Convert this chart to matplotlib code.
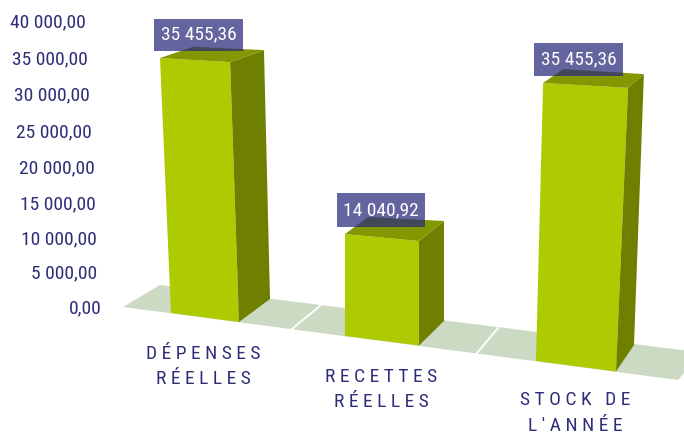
import matplotlib
matplotlib.use("Agg")
import matplotlib.pyplot as plt
from matplotlib.patches import Polygon, Rectangle
import numpy as np

# --- data -------------------------------------------------------------
categories = ["DÉPENSES\nRÉELLES", "RECETTES\nRÉELLES", "STOCK DE\nL'ANNÉE"]
values = [35455.36, 14040.92, 35455.36]
value_labels = ["35 455,36", "14 040,92", "35 455,36"]
tick_values = [0, 5000, 10000, 15000, 20000, 25000, 30000, 35000, 40000]

# --- layout (pixel scene, perspective drawing) ------------------------
# floor corners of each bar: front-left, front-right, back-right, back-left
bar_bases = [
    [(171, 313), (239, 322), (270, 299), (202, 290)],
    [(345, 336), (419, 345.5), (444, 321), (370, 312)],
    [(536, 361), (616, 371.5), (634, 345), (557, 335)],
]
# per 10 000 units: vertical rise and horizontal lean of each corner
bar_rise = [[71.9, 73.3, 70.2, 68.6], [72.6, 74.4, 71.2, 67.7], [78.4, 80.0, 76.4, 75.0]]
bar_lean = [[-3.1, -2.5, -1.7, -2.5], [0, 0, 0, -1.4], [2.0, 3.4, 2.8, 1.7]]
label_boxes = [(154, 18.5, 89, 32.5), (337, 193, 88, 34), (534, 43, 89, 33)]
tick_right = [102, 97, 97, 96, 95, 92, 90, 87.5, 86]
tick_y = [308, 273, 239, 204, 168, 132, 95, 59, 22]
cat_xy = [(203, 366.5), (381, 389.5), (575, 413)]

NAVY = "#2d2d78"
FRONT, SIDE, TOP = "#adcb00", "#6f7f00", "#839800"
FLOOR = "#ccd9c3"
FONT = ["Roboto Condensed", "Archivo Narrow", "Liberation Sans", "DejaVu Sans"]

fig = plt.figure(figsize=(6.84, 4.34), dpi=100)
ax = fig.add_axes([0, 0, 1, 1])
ax.set_xlim(0, 684)
ax.set_ylim(434, 0)
ax.axis("off")

# floor with white separators
ax.add_patch(Polygon([(123, 307), (160, 285), (690, 351), (690, 366), (678, 380)],
                     closed=True, fc=FLOOR, ec="none", zorder=1))
for seg in ([(321, 305), (292, 329)], [(498, 328), (477, 353)]):
    ax.plot(*zip(*seg), color="white", lw=1.4, zorder=1.5)

# bars
for i, val in enumerate(values):
    base = np.array(bar_bases[i], float)
    k = val / 10000.0
    top = base + np.column_stack([np.array(bar_lean[i]) * k, -np.array(bar_rise[i]) * k])
    fl, fr, br, bl = range(4)
    ax.add_patch(Polygon([base[fl], base[fr], top[fr], top[fl]], fc=FRONT, ec="none", zorder=3))
    ax.add_patch(Polygon([base[fr], base[br], top[br], top[fr]], fc=SIDE, ec="none", zorder=3))
    ax.add_patch(Polygon([top[fl], top[fr], top[br], top[bl]], fc=TOP, ec="none", zorder=3))

# value labels
for (x, y, w, h), txt in zip(label_boxes, value_labels):
    ax.add_patch(Rectangle((x, y), w, h, fc="#2a2a7b", ec="none", alpha=0.73, zorder=4))
    ax.text(x + w / 2, y + h / 2, txt, color="white", ha="center", va="center",
            fontsize=14, family=FONT, zorder=5)

# value axis labels
for v, xr, yy in zip(tick_values, tick_right, tick_y):
    s = f"{v:,.2f}".replace(",", " ").replace(".", ",")
    ax.text(xr, yy, s, color=NAVY, ha="right", va="center", fontsize=14, family=FONT)

# category labels (letter-spaced)
for cat, (x, y) in zip(categories, cat_xy):
    spaced = "\n".join(" ".join(line) for line in cat.split("\n"))
    ax.text(x, y, spaced, color=NAVY, ha="center", va="center", multialignment="center",
            fontsize=14, linespacing=1.55, family=FONT)

fig.savefig("out.png", dpi=100)
